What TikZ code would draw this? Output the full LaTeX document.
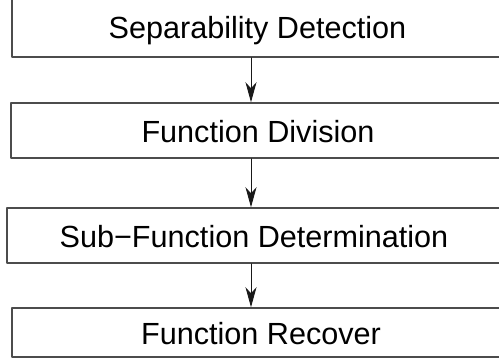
\documentclass[tikz,border=0pt]{standalone}
\usepackage{fontspec}
\setmainfont{Liberation Sans}
\usepackage{tikz}
\usetikzlibrary{arrows.meta}
\definecolor{boxgray}{rgb}{0.3,0.3,0.3}
\definecolor{arrblack}{rgb}{0.1,0.1,0.1}

\begin{document}
\begin{tikzpicture}[line cap=round,line join=round,x=0.5pt,y=0.5pt,
	box/.style={draw=boxgray,line width=0.75pt,fill=white,inner sep=0pt,
		font=\fontsize{15.3}{18}\selectfont,text height=12pt,text depth=0pt},
	arr/.style={-{Stealth[length=10pt,width=5.5pt,inset=3pt]},color=arrblack,line width=0.5pt}]
	\path[use as bounding box,clip] (0,0) rectangle (499,360);

	\node[box,minimum width=245.5pt,minimum height=30.5pt] (sep) at (257.5,333.5) {Separability Detection};
	\node[box,minimum width=247pt,minimum height=27.5pt] (div) at (258,229.5) {Function Division};
	\node[box,minimum width=247pt,minimum height=27.5pt] (sub) at (254,124.5) {Sub−Function Determination};
	\node[box,minimum width=249pt,minimum height=24.5pt] (rec) at (261,27.5) {Function Recover};

	\coordinate (ax) at (251,0);
	\draw [arr] (sep.south -| ax) -- (div.north -| ax);
	\draw [arr] (div.south -| ax) -- (sub.north -| ax);
	\draw [arr] (sub.south -| ax) -- (rec.north -| ax);
\end{tikzpicture}
\end{document}
